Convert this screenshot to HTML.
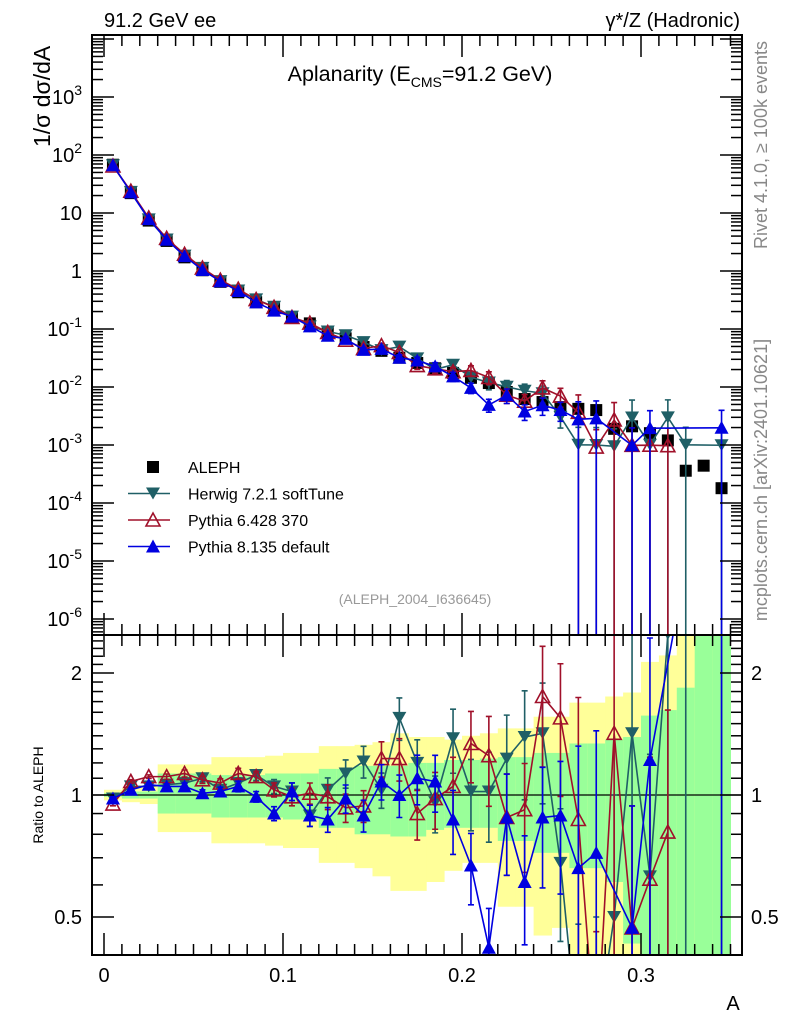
<!DOCTYPE html>
<html><head><meta charset="utf-8">
<style>
html,body{margin:0;padding:0;background:#fff;}
svg{display:block;font-family:"Liberation Sans",sans-serif;}
</style></head>
<body>
<svg id="chart" width="786" height="1024" viewBox="0 0 786 1024" xmlns="http://www.w3.org/2000/svg">
<defs>
<clipPath id="clipMain"><rect x="92" y="35" width="650" height="600"/></clipPath>
<clipPath id="clipRatio"><rect x="92" y="635" width="650" height="320"/></clipPath>
</defs>
<g id="bands" clip-path="url(#clipRatio)"></g>
<g id="ratioMarks" clip-path="url(#clipRatio)"></g>
<g id="mainMarks" clip-path="url(#clipMain)"></g>
<g id="axes"></g>
<text x="104" y="27" font-size="20">91.2 GeV ee</text>
<text x="740" y="27" font-size="20" text-anchor="end">γ*/Z (Hadronic)</text>
<text x="420" y="81" font-size="21.5" text-anchor="middle">Aplanarity (E<tspan font-size="14" dy="6">CMS</tspan><tspan dy="-6">=91.2 GeV)</tspan></text>
<text transform="translate(50,147) rotate(-90)" font-size="23">1/σ  dσ/dA</text>
<text transform="translate(43,795) rotate(-90)" font-size="14" text-anchor="middle">Ratio to ALEPH</text>
<text x="733" y="1010" font-size="20" text-anchor="middle">A</text>
<text transform="translate(767,145) rotate(-90)" font-size="18" fill="#888" text-anchor="middle">Rivet 4.1.0, ≥ 100k events</text>
<text transform="translate(767,480) rotate(-90)" font-size="18" fill="#888" text-anchor="middle">mcplots.cern.ch [arXiv:2401.10621]</text>
<text x="415" y="604" font-size="14" fill="#999" text-anchor="middle">(ALEPH_2004_I636645)</text>
<g id="legend"></g>
</svg>
<script>
const bins = [0.005,0.015,0.025,0.035,0.045,0.055,0.065,0.075,0.085,0.095,0.105,0.115,0.125,0.135,0.145,0.155,0.165,0.175,0.185,0.195,0.205,0.215,0.225,0.235,0.245,0.255,0.265,0.275,0.285,0.295,0.305,0.315,0.325,0.335,0.345];
const alephValues = [68,22,7.4,3.3,1.72,1.03,0.65,0.43,0.29,0.23,0.16,0.125,0.088,0.069,0.049,0.042,0.032,0.026,0.021,0.0175,0.0144,0.0117,0.0082,0.0062,0.0055,0.0045,0.0042,0.004,0.0019,0.0021,0.0016,0.0012,0.00036,0.00044,0.00018];
const herwigRatio = [0.98,1.05,1.05,1.06,1.07,1.1,1.03,1.07,1.12,1.05,1.02,0.89,1.03,1.13,1.21,1.03,1.55,1.2,0.96,1.38,1.02,1.02,1.23,1.39,1.42,0.68,0.24,0.25,0.5,1.42,0.63,2.5,2.8,null,5.5];
const pythia6Ratio = [0.95,1.08,1.11,1.11,1.13,1.09,1.07,1.13,1.11,1.03,0.99,1.01,0.99,0.93,0.94,1.23,1.23,0.9,0.98,1.05,1.34,1.25,0.88,0.92,1.75,1.55,0.87,0.23,1.42,0.47,0.62,0.81,null,null,null];
const pythia8Ratio = [0.98,1.03,1.06,1.05,1.05,1.01,1.02,1.05,0.99,0.9,1.02,0.89,0.87,0.98,0.89,1.08,1.0,1.1,1.08,0.87,0.67,0.42,0.88,0.61,0.88,0.89,0.66,0.72,null,0.47,1.22,null,null,null,11];
const mcRelErr = [0.01,0.01,0.01,0.015,0.02,0.02,0.025,0.03,0.03,0.04,0.05,0.06,0.07,0.08,0.09,0.1,0.12,0.14,0.16,0.18,0.2,0.25,0.28,0.3,0.33,0.36,1,1,1,1,1,1,1,1,1];
const greenUp = [1.01,1.02,1.02,1.13,1.13,1.13,1.12,1.12,1.12,1.13,1.13,1.13,1.16,1.16,1.18,1.18,1.18,1.2,1.2,1.22,1.22,1.23,1.24,1.24,1.27,1.27,1.34,1.34,1.37,1.39,1.57,1.62,1.84,3,3];
const greenLo = [0.99,0.98,0.98,0.9,0.9,0.9,0.88,0.88,0.88,0.88,0.87,0.87,0.83,0.83,0.8,0.8,0.79,0.79,0.82,0.83,0.83,0.83,0.77,0.77,0.72,0.72,0.66,0.66,0.61,0.43,0.3,0.3,0.3,0.3,0.3];
const yellowUp = [1.03,1.04,1.05,1.19,1.19,1.19,1.24,1.24,1.24,1.25,1.27,1.27,1.32,1.32,1.33,1.35,1.42,1.39,1.39,1.37,1.40,1.42,1.46,1.46,1.56,1.56,1.69,1.69,1.75,1.79,2.13,2.21,2.48,3,3];
const yellowLo = [0.97,0.96,0.95,0.81,0.81,0.81,0.76,0.76,0.76,0.75,0.74,0.74,0.68,0.68,0.66,0.63,0.58,0.58,0.61,0.65,0.68,0.68,0.53,0.53,0.45,0.47,0.3,0.3,0.3,0.3,0.3,0.3,0.3,0.3,0.3];
const mainTickLabels = ["10^3","10^2","10","1","10^-1","10^-2","10^-3","10^-4","10^-5","10^-6"];
const mainTickValues = [1e3,1e2,10,1,0.1,0.01,1e-3,1e-4,1e-5,1e-6];
const xTickValues = [0,0.1,0.2,0.3];
const xTickLabels = ["0","0.1","0.2","0.3"];
const ratioTickValues = [2,1,0.5];
const ratioTickLabels = ["2","1","0.5"];

const NS="http://www.w3.org/2000/svg";
const L=92,R=742,T=35,MB=635,RB=955;
const xs = v => 104 + v*1790;
const ys = v => 271 - 58*Math.log10(v);
const yr = v => 795 - 122*Math.log2(v);
function mk(tag, attrs, parent){const e=document.createElementNS(NS,tag);for(const k in attrs)e.setAttribute(k,attrs[k]);parent.appendChild(e);return e;}
const gB=document.getElementById('bands'),gR=document.getElementById('ratioMarks'),gM=document.getElementById('mainMarks'),gA=document.getElementById('axes'),gL=document.getElementById('legend');

bins.forEach((b,i)=>{
  const x0=xs(b-0.005),x1=xs(b+0.005);
  let r=mk('rect',{x:x0,y:yr(yellowUp[i]),width:x1-x0+0.5,height:yr(yellowLo[i])-yr(yellowUp[i]),fill:'#ffff99'},gB);
  
  
  let g=mk('rect',{x:x0,y:yr(greenUp[i]),width:x1-x0+0.5,height:yr(greenLo[i])-yr(greenUp[i]),fill:'#99ff99'},gB);
  
  
});
let one=mk('line',{x1:L,x2:R,y1:yr(1),y2:yr(1),stroke:'#000','stroke-width':1.3},gR);



function marker(kind,color,x,y,parent,name){
  let e;
  if(kind==='square') e=mk('rect',{x:x-6,y:y-6,width:12,height:12,fill:'#000'},parent);
  else if(kind==='down') e=mk('polygon',{points:`${x-7},${y-6} ${x+7},${y-6} ${x},${y+6}`,fill:color},parent);
  else if(kind==='up') e=mk('polygon',{points:`${x-7},${y+6} ${x+7},${y+6} ${x},${y-7}`,fill:color},parent);
  else e=mk('polygon',{points:`${x-7},${y+6} ${x+7},${y+6} ${x},${y-7}`,fill:'none',stroke:color,'stroke-width':1.6},parent);
  
  
  return e;
}
function errbar(x,hi,lo,color,parent,name){
  const p=`M${x},${hi}L${x},${lo}M${x-3},${hi}L${x+3},${hi}M${x-3},${lo}L${x+3},${lo}`;
  let e=mk('path',{d:p,stroke:color,'stroke-width':1.6,fill:'none'},parent);
  
  
}
const series=[
  {name:'herwig',ratio:herwigRatio,color:'#1f5f66',kind:'down'},
  {name:'pythia6',ratio:pythia6Ratio,color:'#a0102a',kind:'open'},
  {name:'pythia8',ratio:pythia8Ratio,color:'#0000e0',kind:'up'}
];
bins.forEach((b,i)=>{ marker('square','#000',xs(b),ys(alephValues[i]),gM,'aleph-point'); });
series.forEach(s=>{
  let ptsM=[],ptsR=[];
  bins.forEach((b,i)=>{
    const r=s.ratio[i]; if(r==null) return;
    const v=r*alephValues[i], e=mcRelErr[i];
    const x=xs(b);
    const lo=e>=1?MB+10:ys(v*(1-e)), hi=ys(v*(1+e));
    errbar(x,hi,lo,s.color,gM,s.name+'-error-bar');
    const rlo=e>=1?RB+10:yr(r*(1-e)), rhi=yr(r*(1+e));
    errbar(x,rhi,rlo,s.color,gR,s.name+'-ratio-error-bar');
    ptsM.push([x,ys(v)]); ptsR.push([x,yr(r)]);
  });
  let pl=mk('polyline',{points:ptsM.map(p=>p.join(',')).join(' '),fill:'none',stroke:s.color,'stroke-width':1.6},gM);
  
  
  let pr=mk('polyline',{points:ptsR.map(p=>p.join(',')).join(' '),fill:'none',stroke:s.color,'stroke-width':1.6},gR);
  
  
  ptsM.forEach(p=>marker(s.kind,s.color,p[0],p[1],gM,s.name+'-point'));
  ptsR.forEach(p=>marker(s.kind,s.color,p[0],p[1],gR,s.name+'-ratio-point'));
});

[[T,MB],[MB,RB]].forEach(([t,b],k)=>{
  let f=mk('rect',{x:L,y:t,width:R-L,height:b-t,fill:'none',stroke:'#000','stroke-width':2},gA);
  
  
  for(let j=0;j<=35;j++){
    const v=j*0.01, x=xs(v); if(x>R) break;
    const len=(j%10===0)?22:11;
    mk('line',{x1:x,x2:x,y1:b,y2:b-len,stroke:'#000','stroke-width':1.5},gA);
    mk('line',{x1:x,x2:x,y1:t,y2:t+len,stroke:'#000','stroke-width':1.5},gA);
  }
});
for(let d=-7;d<=4;d++){
  for(let m=1;m<10;m++){
    const v=m*Math.pow(10,d), y=ys(v);
    if(y<T||y>MB) continue;
    const len=m===1?22:11;
    mk('line',{x1:L,x2:L+len,y1:y,y2:y,stroke:'#000','stroke-width':1.5},gA);
    mk('line',{x1:R,x2:R-len,y1:y,y2:y,stroke:'#000','stroke-width':1.5},gA);
  }
}
mainTickValues.forEach((v,i)=>{
  const y=ys(v), lab=mainTickLabels[i];
  let t=mk('text',{x:82,y:y+7,'font-size':20,'text-anchor':'end'},gA);
  
  
  if(lab.includes('^')){const [b,e]=lab.split('^');t.textContent=b;let s=mk('tspan',{dy:-9,'font-size':14},t);s.textContent=e;}
  else t.textContent=lab;
});
for(let v=0.4;v<=2.5;v+=0.1){
  const y=yr(v); if(y<MB||y>RB) continue;
  const major=[0.5,1,2].some(m=>Math.abs(m-v)<1e-6);
  const len=major?22:11;
  mk('line',{x1:L,x2:L+len,y1:y,y2:y,stroke:'#000','stroke-width':1.5},gA);
  mk('line',{x1:R,x2:R-len,y1:y,y2:y,stroke:'#000','stroke-width':1.5},gA);
}
ratioTickValues.forEach((v,i)=>{
  let t=mk('text',{x:82,y:yr(v)+7,'font-size':20,'text-anchor':'end'},gA);t.textContent=ratioTickLabels[i];
  
  
  let t2=mk('text',{x:751,y:yr(v)+7,'font-size':20},gA);t2.textContent=ratioTickLabels[i];
  
  
});
xTickValues.forEach((v,i)=>{
  let t=mk('text',{x:xs(v),y:982,'font-size':20,'text-anchor':'middle'},gA);t.textContent=xTickLabels[i];
  
  
});
const legendNames=['ALEPH','Herwig 7.2.1 softTune','Pythia 6.428 370','Pythia 8.135 default'];
const legendKinds=[['square','#000'],['down','#1f5f66'],['open','#a0102a'],['up','#0000e0']];
legendNames.forEach((n,i)=>{
  const y=467+i*26.5;
  if(i>0){let l=mk('line',{x1:128,x2:170,y1:y,y2:y,stroke:legendKinds[i][1],'stroke-width':1.6},gL);
    
    }
  marker(legendKinds[i][0],legendKinds[i][1],153,y,gL,'legend-marker');
  let t=mk('text',{x:188,y:y+6,'font-size':16},gL);t.textContent=n;
  
  
});
</script>
</body></html>
